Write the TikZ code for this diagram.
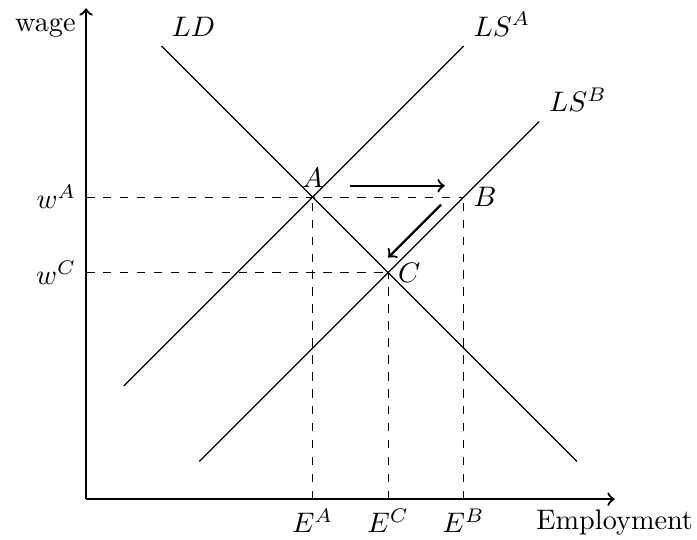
\documentclass[tikz,border=0pt]{standalone}
\usetikzlibrary{arrows}
\begin{document}
\begin{tikzpicture}[x=0.94cm,y=0.94cm,
  axis/.style={thick,->},
  curve/.style={thin},
  guide/.style={dashed},
  move/.style={thick,->}]
\useasboundingbox (-1.14,-0.54) rectangle (8.09,6.61);
% axes
\coordinate (O) at (0,0);
\coordinate (xend) at (7,0);
\coordinate (yend) at (0,6.5);
\draw[axis] (O) -- (xend) node[below] (emp) {Employment};
\draw[axis] (O) -- (yend) node[below left] (wage) {wage};
% points
\coordinate (A) at (3,4);
\coordinate (B) at (5,4);
\coordinate (C) at (4,3);
\coordinate (wA) at (0,4);
\coordinate (wC) at (0,3);
\coordinate (EA) at (3,0);
\coordinate (EB) at (5,0);
\coordinate (EC) at (4,0);
% curves
\coordinate (LD1) at (1,6);
\coordinate (LD2) at (6.5,0.5);
\coordinate (LSA1) at (0.5,1.5);
\coordinate (LSA2) at (5,6);
\coordinate (LSB1) at (1.5,0.5);
\coordinate (LSB2) at (6,5);
\draw[curve] (LD2) -- (LD1) node[above right] (ld) {$LD$};
\draw[curve] (LSA1) -- (LSA2) node[above right] (lsa) {$LS^A$};
\draw[curve] (LSB1) -- (LSB2) node[above right] (lsb) {$LS^B$};
% guides
\draw[guide] (wA) node[left] (wAl) {$w^A$} -- (B);
\draw[guide] (wC) node[left] (wCl) {$w^C$} -- (C);
\draw[guide] (EA) node[below] (EAl) {$E^A$} -- (A);
\draw[guide] (EC) node[below] (ECl) {$E^C$} -- (C);
\draw[guide] (EB) node[below] (EBl) {$E^B$} -- (B);
% point labels
\node[above] (Al) at (A) {$A$};
\node[right] (Bl) at (B) {$B$};
\node[right] (Cl) at (C) {$C$};
% movement arrows
\coordinate (m1s) at (3.5,4.15);
\coordinate (m1e) at (4.75,4.15);
\coordinate (m2s) at (4.7,3.9);
\coordinate (m2e) at (4.0,3.2);
\draw[move] (m1s) -- (m1e);
\draw[move] (m2s) -- (m2e);
\end{tikzpicture}
\end{document}
